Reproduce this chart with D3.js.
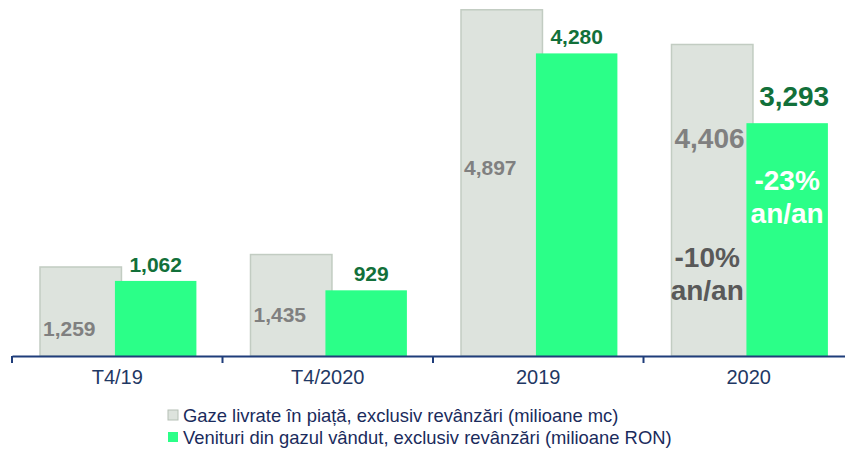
<!DOCTYPE html>
<html>
<head>
<meta charset="utf-8">
<script src="https://cdn.jsdelivr.net/npm/d3@7"></script>
<style>
  body { margin: 0; background: #fff; }
  svg text { font-family: "Liberation Sans", Arial, sans-serif; }
</style>
</head>
<body>
<div id="chart"></div>
<script>
// data
const categories = ["T4/19", "T4/2020", "2019", "2020"];
const gazeLivrate = [1259, 1435, 4897, 4406];   // milioane mc
const venituri = [1062, 929, 4280, 3293];       // milioane RON
const seriesNames = [
  "Gaze livrate în piață, exclusiv revânzări (milioane mc)",
  "Venituri din gazul vândut, exclusiv revânzări (milioane RON)"
];

const width = 845, height = 458;
const axisY = 356;

const svg = d3.select("#chart")
  .append("svg")
    .attr("width", width)
    .attr("height", height);

const x = d3.scaleBand()
  .domain(categories)
  .range([12, 854]);

const y = d3.scaleLinear()
  .domain([0, 5000])
  .range([axisY, axisY - 353.5]);

const bw = x.bandwidth();
const greyX = d => x(d) + bw * 0.133,
      greenX = d => x(d) + bw * 0.489,
      barW = bw * 0.387;

// grey bars
svg.selectAll(".grey")
  .data(categories)
  .enter()
  .append("rect")
    .attr("x", d => greyX(d))
    .attr("y", (d, i) => y(gazeLivrate[i]))
    .attr("width", barW)
    .attr("height", (d, i) => axisY - y(gazeLivrate[i]))
    .attr("fill", "#dde3dd")
    .attr("stroke", "#c2ccc2")
    .attr("stroke-width", 1.5);

// green bars
svg.selectAll(".green")
  .data(categories)
  .enter()
  .append("rect")
    .attr("x", d => greenX(d))
    .attr("y", (d, i) => y(venituri[i]))
    .attr("width", barW)
    .attr("height", (d, i) => axisY - y(venituri[i]))
    .attr("fill", "#2bff88");

// axis
const axis = svg.append("g")
  .attr("transform", `translate(0, ${axisY})`)
  .call(d3.axisBottom(x).tickSize(0).tickPadding(14));
axis.select(".domain").attr("stroke", "#1f3d7a").attr("stroke-width", 2);
axis.selectAll("text")
  .attr("fill", "#1f3864")
  .style("font-size", "20px")
  .style("font-family", "'Liberation Sans', Arial, sans-serif");
// tick marks on band edges
svg.selectAll(".edge")
  .data(categories)
  .enter()
  .append("line")
    .attr("x1", d => x(d)).attr("x2", d => x(d))
    .attr("y1", axisY).attr("y2", axisY + 7)
    .attr("stroke", "#1f3d7a")
    .attr("stroke-width", 2);

const fmt = d3.format(",");

// green value labels (above bars)
const greenSize = [21, 21, 21, 28];
const greenDx = [0, 5, 0, 7];
svg.selectAll(".glab")
  .data(categories)
  .enter()
  .append("text")
    .attr("x", (d, i) => greenX(d) + barW / 2 + greenDx[i])
    .attr("y", (d, i) => y(venituri[i]) - (i == 3 ? 17 : 9))
    .attr("text-anchor", "middle")
    .attr("fill", "#12703a")
    .style("font-weight", "bold")
    .style("font-size", (d, i) => greenSize[i] + "px")
    .text((d, i) => fmt(venituri[i]));

// grey value labels (inside bars)
const greySize = [21, 21, 21, 28];
const greyLabelY = [336, 322, 175, 148];
svg.selectAll(".klab")
  .data(categories)
  .enter()
  .append("text")
    .attr("x", d => greyX(d) + 3)
    .attr("y", (d, i) => greyLabelY[i])
    .attr("fill", "#808080")
    .style("font-weight", "bold")
    .style("font-size", (d, i) => greySize[i] + "px")
    .text((d, i) => fmt(gazeLivrate[i]));

// year-over-year annotations
const annot = [
  {t: "-10%", cx: greyX("2020") + barW / 2 - 5, y: 267, c: "#595959"},
  {t: "an/an", cx: greyX("2020") + barW / 2 - 5, y: 300, c: "#595959"},
  {t: "-23%", cx: greenX("2020") + barW / 2, y: 190, c: "#ffffff"},
  {t: "an/an", cx: greenX("2020") + barW / 2, y: 223, c: "#ffffff"}
];
svg.selectAll(".ann")
  .data(annot)
  .enter()
  .append("text")
    .attr("x", d => d.cx)
    .attr("y", d => d.y)
    .attr("text-anchor", "middle")
    .attr("fill", d => d.c)
    .style("font-weight", "bold")
    .style("font-size", "28px")
    .text(d => d.t);

// legend
const legend = svg.selectAll(".leg")
  .data(seriesNames)
  .enter()
  .append("g")
    .attr("transform", (d, i) => `translate(168, ${408 + i * 22})`);
legend.append("rect")
  .attr("width", 10).attr("height", 10)
  .attr("y", 2)
  .attr("fill", (d, i) => i == 0 ? "#dde3dd" : "#2bff88")
  .attr("stroke", (d, i) => i == 0 ? "#b5c0b5" : "none");
legend.append("text")
  .attr("x", 15)
  .attr("y", 14)
  .attr("fill", "#1a2b5c")
  .style("font-size", "18.4px")
  .text(d => d);
</script>
</body>
</html>
